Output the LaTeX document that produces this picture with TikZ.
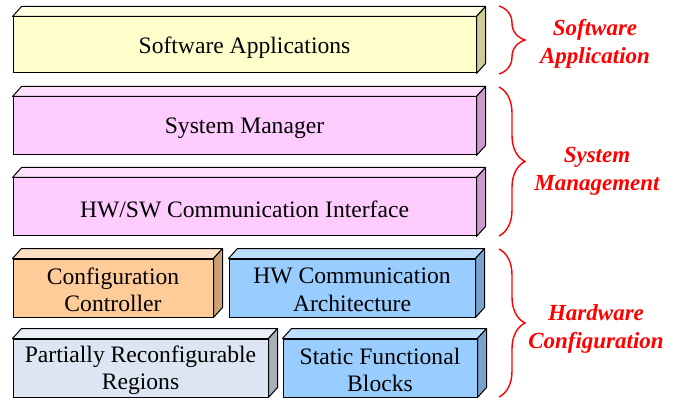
\documentclass[tikz,border=0pt]{standalone}
\usepackage{fontspec}
\setmainfont{Liberation Serif}
\usetikzlibrary{decorations.pathreplacing}
\definecolor{swF}{HTML}{FFFFCC}\definecolor{swT}{HTML}{FFFFE3}\definecolor{swS}{HTML}{CCCC99}
\definecolor{pkF}{HTML}{FFCCFF}\definecolor{pkT}{HTML}{FFE0FF}\definecolor{pkS}{HTML}{CC99CC}
\definecolor{orF}{HTML}{FFCC99}\definecolor{orT}{HTML}{FFE0C2}\definecolor{orS}{HTML}{CCA078}
\definecolor{blF}{HTML}{99CCFF}\definecolor{blT}{HTML}{BCDEFF}\definecolor{blS}{HTML}{7AA3CC}
\definecolor{grF}{HTML}{DCE6F2}\definecolor{grT}{HTML}{EAF0F8}\definecolor{grS}{HTML}{A8B0B8}
\definecolor{lblred}{HTML}{FF0000}
\newcommand\layerbox[8]{% name, cx, cy, w, h, front, top, side
  \node[layer, fill=#6, minimum width=#4pt, minimum height=#5pt] (#1) at (#2,#3) {\strut};
  \filldraw[facecol, fill=#7] (#1.north west) -- ++(9,-10) -- ([shift={(9,-10)}]#1.north east) -- (#1.north east) -- cycle;
  \filldraw[facecol, fill=#8] (#1.north east) -- ++(9,-10) -- ([shift={(9,-10)}]#1.south east) -- (#1.south east) -- cycle;
}
\tikzset{
  layer/.style={draw=black, line width=1pt, rectangle, inner sep=0pt},
  facecol/.style={draw=black, line width=1pt, line join=round},
  boxtxt/.style={font=\fontsize{23.6}{27.5}\selectfont, align=center, text=black},
  lbl/.style={font=\fontsize{23}{28}\selectfont\bfseries\itshape, text=lblred, align=center},
  brc/.style={draw=lblred, line width=1.4pt, decorate, decoration={brace, amplitude=26pt, aspect=0.5}}
}
\begin{document}
\begin{tikzpicture}[x=1pt,y=-1pt]
\useasboundingbox[fill=white] (0,0) rectangle (678,401);
\layerbox{sw}{244.5}{45}{463}{56}{swF}{swT}{swS}
\layerbox{sm}{244.5}{126}{463}{58}{pkF}{pkT}{pkS}
\layerbox{hs}{244.5}{207}{463}{58}{pkF}{pkT}{pkS}
\layerbox{cc}{113}{288}{200}{58}{orF}{orT}{orS}
\layerbox{hc}{352}{288}{246}{58}{blF}{blT}{blS}
\layerbox{pr}{140.5}{368}{255}{58}{grF}{grT}{grS}
\layerbox{sf}{380}{368}{194}{58}{blF}{blT}{blS}
\node[boxtxt] (swt) at ([yshift=-2.5pt]sw.center) {Software Applications};
\node[boxtxt] (smt) at ([yshift=-2.5pt]sm.center) {System Manager};
\node[boxtxt] (hst) at ([yshift=-2.5pt]hs.center) {HW/SW Communication Interface};
\node[boxtxt] (cct) at ([yshift=-2pt]cc.center) {Configuration\\Controller};
\node[boxtxt] (hct) at ([yshift=-2pt]hc.center) {HW Communication\\Architecture};
\node[boxtxt] (prt) at ([yshift=-2pt]pr.center) {Partially Reconfigurable\\Regions};
\node[boxtxt] (sft) at ([yshift=-2pt]sf.center) {Static Functional\\Blocks};
\coordinate (b1a) at (499,6); \coordinate (b1b) at (499,74);
\coordinate (b2a) at (499,87); \coordinate (b2b) at (499,236);
\coordinate (b3a) at (499,249); \coordinate (b3b) at (499,397);
\draw[brc] (b1a) -- (b1b);
\draw[brc] (b2a) -- (b2b);
\draw[brc] (b3a) -- (b3b);
\node[lbl] (l1) at (595,43.5) {Software\\Application};
\node[lbl] (l2) at (597,171.5) {System\\Management};
\node[lbl] (l3) at (596,328.5) {Hardware\\Configuration};
\end{tikzpicture}
\end{document}
